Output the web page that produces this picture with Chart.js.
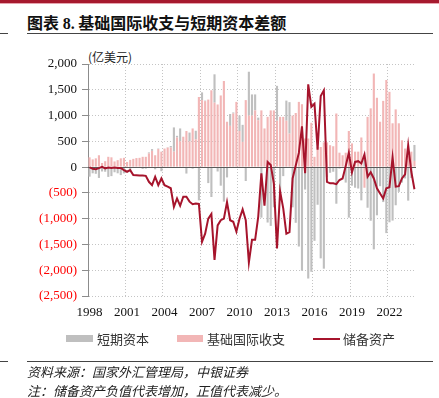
<!DOCTYPE html>
<html><head><meta charset="utf-8">
<script src="https://cdn.jsdelivr.net/npm/chart.js@4.4.1/dist/chart.umd.min.js"></script>
<style>
html,body{margin:0;padding:0;background:#fff;}
body{width:439px;height:398px;position:relative;overflow:hidden;font-family:"Noto Sans CJK SC",sans-serif;}
.abs{position:absolute;}
#topbar{left:0;top:0;width:439px;height:3px;background:#A6192E;}
#topbar2{left:0;top:3px;width:439px;height:1px;background:#E6A4AE;}
#title{left:27px;top:12px;font-size:16px;font-weight:bold;line-height:20px;color:#111;white-space:nowrap;}
#title .num{font-family:"Liberation Serif",serif;}
.rule{height:1px;background:#444;}
#unit{left:88px;top:49px;font-size:12px;line-height:16px;color:#222;white-space:nowrap;}
#wrap{left:0;top:40px;width:439px;height:290px;}
.leg{font-size:13px;line-height:16px;color:#333;top:331px;white-space:nowrap;}
.sw{height:7px;top:335px;}
.note{left:27px;font-size:13px;font-style:italic;line-height:16px;color:#222;white-space:nowrap;}
</style></head>
<body>
<div id="topbar" class="abs"></div>
<div id="topbar2" class="abs"></div>
<div id="title" class="abs">图表 <span class="num">8.</span> 基础国际收支与短期资本差额</div>
<div class="abs rule" style="left:0;top:33px;width:8px;"></div>
<div class="abs rule" style="left:27px;top:33px;width:406px;"></div>
<div id="unit" class="abs">(亿美元)</div>
<div id="wrap" class="abs"><canvas id="c" width="439" height="290"></canvas></div>

<div class="abs sw" style="left:66px;width:27px;background:#BFBFBF;"></div>
<div class="abs leg" style="left:97px;">短期资本</div>
<div class="abs sw" style="left:177px;width:26px;background:#F2B6B6;"></div>
<div class="abs leg" style="left:207px;">基础国际收支</div>
<div class="abs" style="left:313px;top:338px;width:27px;height:2px;background:#A6142C;"></div>
<div class="abs leg" style="left:343px;">储备资产</div>

<div class="abs rule" style="left:0;top:361px;width:8px;"></div>
<div class="abs rule" style="left:27px;top:361px;width:406px;"></div>
<div class="abs note" style="top:364px;">资料来源：国家外汇管理局，中银证券</div>
<div class="abs note" style="top:383px;">注：储备资产负值代表增加，正值代表减少。</div>

<script>
// Quarterly categories 1998Q1 - 2024Q1
const categories = [];
for (let y = 1998; y <= 2024; y++) {
  for (let q = 1; q <= 4; q++) {
    if (y === 2024 && q > 1) break;
    categories.push(y + 'Q' + q);
  }
}
const xTickLabels = ['1998','2001','2004','2007','2010','2013','2016','2019','2022'];
const yTicks = [2000,1500,1000,500,0,-500,-1000,-1500,-2000,-2500];

// 基础国际收支 (亿美元)
const basicBalance = [
  190,150,170,230, 80,115,200,190, 110,135,170,180, 100,140,160,175,
  180,200,200,265, 315,230,350,300, 360,380,380,300, 575,500,590,700,
  500,750,540,1360, 1300,1280,1310,1490, 1250,1215,1390,1670, 880,800,1040,1265,
  700,490,1300,1000, 1000,1100,910,1100, 750,975,1100,1100, 900,975,975,900,
  650,1000,1050,1265, 1220,555,555,860, 200,390,390,480, 480,425,405,1040,
  280,230,280,700, 460,300,300,575, -400,975,1140,1815, 1345,880,1285,1690,
  1460,850,1120,850, 520,360,225,300, 120
];
// 短期资本 (亿美元)
const shortTermCapital = [
  -185,-120,-130,-210, -85,-90,-190,-175, -100,-120,-155,-122, -10,-82,-5,-15,
  -15,-35,-30,20, 35,-43,10,-80, -10,5,30,470, 32,250,-15,-125,
  170,-30,165,-645, 150,10,-310,-580, 550,-85,-360,-670, -200,230,20,-15,
  300,330,-270,850, 410,310,50,-980, 0,-1075,-1140,-780, 676,-505,-175,390,
  610,-780,-1080,-1540, -2010,-435,-2161,-2030, -1430,-730,-1770,-1970, -195,-110,-90,-710,
  -30,-10,-300,-980, -360,-400,-415,-645, 155,-788,-1040,-1595, -935,-370,-678,-1280,
  -1070,-1037,-740,-480, -300,-220,-650,-210, 310
];
// 储备资产 (亿美元)
const reserveAssets = [
  -5,-30,-40,-20, 5,-25,-10,-15, -10,-15,-15,-58, -90,-58,-155,-160,
  -165,-165,-170,-285, -350,-187,-350,-220, -350,-380,-410,-770, -607,-750,-575,-575,
  -670,-720,-705,-715, -1450,-1290,-1000,-910, -1800,-1130,-1030,-1000, -680,-1030,-1060,-1250,
  -1000,-820,-1030,-1850, -1410,-1410,-960,-120, -750,100,40,-320, -1576,-470,-800,-1290,
  -1260,-220,30,275, 790,-120,1606,1170, 1230,340,1380,1490, -285,-315,-315,-330,
  -250,-220,20,280, -100,100,115,70, 245,-187,-100,-220, -410,-510,-607,-410,
  -390,187,-380,-370, -220,-140,425,-90, -430
];

const zeroLine = {
  id: 'zeroLine',
  beforeDatasetDraw(chart, args) {
    if (chart.data.datasets[args.index].type !== 'line') return;
    const y = Math.round(chart.scales.y.getPixelForValue(0)) + 0.5;
    const {left, right} = chart.chartArea;
    const c = chart.ctx;
    c.save();
    c.strokeStyle = '#5a5a5a';
    c.lineWidth = 1;
    c.beginPath(); c.moveTo(left, y); c.lineTo(right, y); c.stroke();
    c.restore();
  }
};

function fmt(v) {
  const s = Math.abs(v).toLocaleString('en-US');
  return v < 0 ? '(' + s + ')' : s;
}

new Chart(document.getElementById('c'), {
  data: {
    labels: categories,
    datasets: [
      {type:'line', label:'储备资产', data: reserveAssets, borderColor:'#A6142C', borderWidth:2,
       pointRadius:0, tension:0, stack:'L', order:0},
      {type:'bar', label:'基础国际收支', data: basicBalance, backgroundColor:'#F2B6B6', borderWidth:0,
       stack:'B', order:1, barPercentage:0.68, categoryPercentage:1.0},
      {type:'bar', label:'短期资本', data: shortTermCapital, backgroundColor:'#BFBFBF', borderWidth:0,
       stack:'B', order:2, barPercentage:0.68, categoryPercentage:1.0}
    ]
  },
  options: {
    responsive:false, animation:false,
    layout:{padding:{left:0, right:23, top:24, bottom:0}},
    plugins:{legend:{display:false}, tooltip:{enabled:false}},
    scales:{
      x:{
        stacked:true, offset:true,
        grid:{offset:true, drawTicks:false, lineWidth:1,
          color: ctx => (ctx.index % 12 === 0 && ctx.index > 0 && ctx.index < categories.length) ? '#c4c4c4' : 'rgba(0,0,0,0)'},
        border:{display:false, dash:[1,2]},
        ticks:{autoSkip:false, maxRotation:0, minRotation:0, padding:9,
          font:{family:'"Liberation Serif", serif', size:13}, color:'#111',
          callback:(v, i) => (i % 12 === 0) ? (xTickLabels[i / 12] || '') : ''},
        afterFit: s => { s.height = 34; }
      },
      y:{
        stacked:true, min:-2500, max:2000,
        afterBuildTicks: s => { s.ticks = yTicks.map(v => ({value:v})); },
        grid:{color:'#c4c4c4', lineWidth:1, drawTicks:true, tickLength:6,
          tickColor:'#8c8c8c', tickBorderDash:[], tickWidth:1},
        border:{display:true, color:'#8c8c8c', width:1, dash:[1,2]},
        ticks:{padding:5, font:{family:'"Liberation Serif", serif', size:13},
          color: ctx => (ctx.tick && ctx.tick.value < 0) ? '#FF0000' : '#111',
          callback: v => fmt(v)},
        afterFit: s => { s.width = 88; }
      }
    }
  },
  plugins:[zeroLine]
});
</script>
</body></html>
